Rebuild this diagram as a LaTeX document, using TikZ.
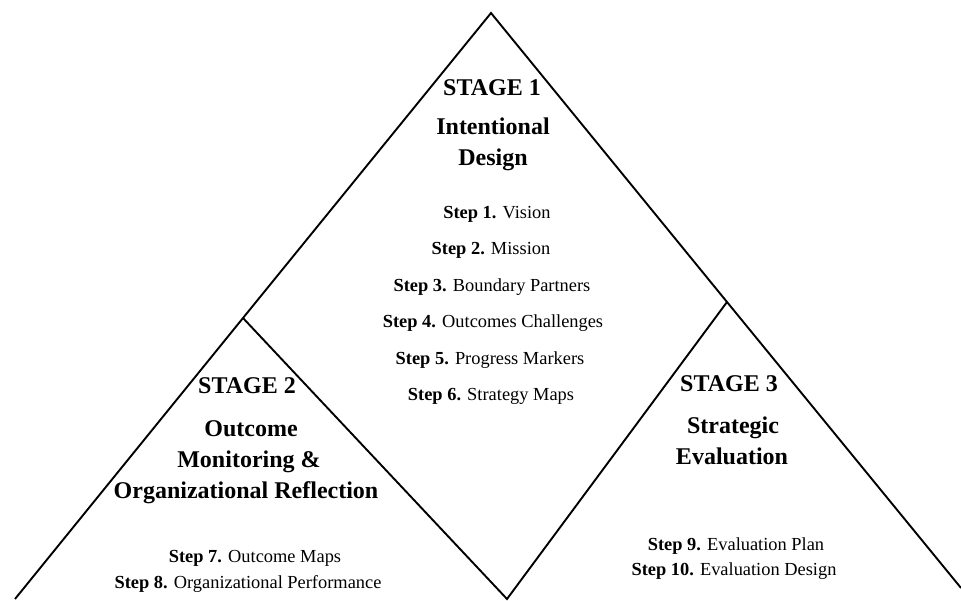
\documentclass[tikz,border=0pt]{standalone}
\usepackage{fontspec}
\setmainfont{Liberation Serif}
\tikzset{
  stagehead/.style={font=\fontsize{24}{28}\selectfont\bfseries, inner sep=0pt, anchor=base},
  steptext/.style={font=\fontsize{18.4}{22}\selectfont, inner sep=0pt, anchor=base},
}
\begin{document}
\begin{tikzpicture}[x=1pt,y=-1pt,line width=1.9pt]
	\useasboundingbox (0,0) rectangle (961,600);
	% corners of the three triangles
	\coordinate (apex) at (491,13);
	\coordinate (lowleft) at (243,318);
	\coordinate (lowright) at (727,302);
	\coordinate (valley) at (507,599);
	\coordinate (botleft) at (15,599);
	\coordinate (botright) at (961,588);
	\draw[black] (botleft)--(lowleft)--(apex)--(lowright)--(botright);
	\draw[black] (lowleft)--(valley)--(lowright);
	% stage 1
	\node[stagehead] (s1) at (492,95) {STAGE 1};
	\node[stagehead] (s1a) at (493,134) {Intentional};
	\node[stagehead] (s1b) at (493,165) {Design};
	\foreach \x/\y/\n/\t in {497/218/1/Vision,491/254.5/2/Mission,492/291/3/Boundary Partners,493/327.5/4/Outcomes Challenges,490/364/5/Progress Markers,491/400.5/6/Strategy Maps}
		\node[steptext] (step\n) at (\x,\y) {\textbf{Step \n.} \t};
	% stage 2
	\node[stagehead] (s2) at (247,393) {STAGE 2};
	\node[stagehead] (s2a) at (251,436) {Outcome};
	\node[stagehead] (s2b) at (249,467) {Monitoring \&};
	\node[stagehead] (s2c) at (246,498) {Organizational Reflection};
	\node[steptext] (step7) at (255,562) {\textbf{Step 7.} Outcome Maps};
	\node[steptext] (step8) at (248,588) {\textbf{Step 8.} Organizational Performance};
	% stage 3
	\node[stagehead] (s3) at (729,391) {STAGE 3};
	\node[stagehead] (s3a) at (733,433) {Strategic};
	\node[stagehead] (s3b) at (732,464) {Evaluation};
	\node[steptext] (step9) at (736,550) {\textbf{Step 9.} Evaluation Plan};
	\node[steptext] (step10) at (734,575) {\textbf{Step 10.} Evaluation Design};
\end{tikzpicture}
\end{document}
